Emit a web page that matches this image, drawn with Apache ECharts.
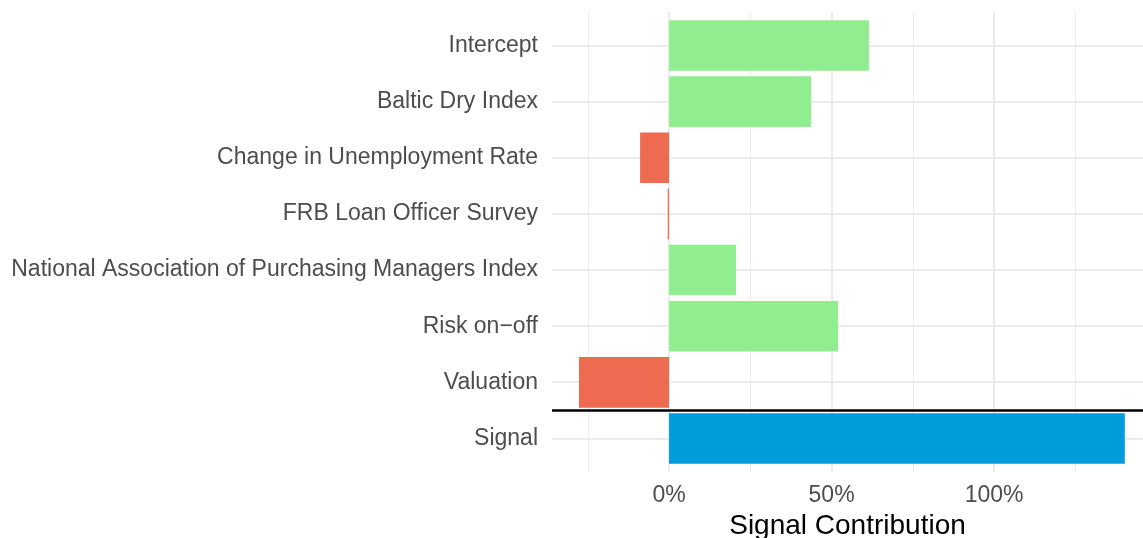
<!DOCTYPE html>
<html>
<head>
    <meta charset="UTF-8"/>
    <script type="text/javascript" src="https://cdn.jsdelivr.net/npm/echarts@6/dist/echarts.min.js"></script>
    <title>Signal Contribution</title>
    <style>
        html, body { margin: 0; padding: 0; background: #fff; }
        #chart { width: 1143px; height: 538px; }
    </style>
</head>
<body>
<div id="chart"></div>

<script type="application/javascript">
    // data (percent)
    var categories = ['Intercept', 'Baltic Dry Index', 'Change in Unemployment Rate', 'FRB Loan Officer Survey',
        'National Association of Purchasing Managers Index', 'Risk on\u2212off', 'Valuation', 'Signal'];
    var contributions = [61.5, 43.7, -8.9, -0.4, 20.6, 52.0, -27.7, 140.2];
    var totalName = 'Signal';
    var majorTicks = [0, 50, 100];
    var minorTicks = [-25, 25, 75, 125];
    var xMin = -36;
    var xMax = 145.8;

    var rowIndex = [];
    for (var i = 0; i < categories.length; i++) {
        rowIndex[i] = i;
    }
    // separator sits between the last factor and the total
    var separatorAt = categories.indexOf(totalName) - 0.5;

    var gridColor = '#EBEBEB';
    var textColor = '#4D4D4D';
    var font = '"Liberation Sans", Arial, Helvetica, sans-serif';

    function barColor(p) {
        if (p.name === totalName) {
            return '#009DDC';
        }
        return p.value >= 0 ? '#90EE90' : '#EE6A50';
    }

    var myChart = echarts.init(document.getElementById('chart'));
    var option = {
        animation: false,
        backgroundColor: '#fff',
        textStyle: { fontFamily: font },
        grid: [
            { left: 552, right: 0, top: 17.4, bottom: 71.4, outerBoundsMode: 'none', containLabel: false },
            { left: 552, right: 0, top: 12, bottom: 66, outerBoundsMode: 'none', containLabel: false }
        ],
        xAxis: [
            {
                type: 'value', gridIndex: 0, min: xMin, max: xMax,
                axisLine: { show: false },
                axisTick: { show: false, customValues: majorTicks },
                splitLine: { show: false },
                axisLabel: {
                    customValues: majorTicks,
                    formatter: '{value}%',
                    color: textColor, fontSize: 23, margin: 18, fontFamily: font
                },
                name: 'Signal Contribution',
                nameLocation: 'middle',
                nameGap: 45,
                nameTextStyle: { color: '#000', fontSize: 28, fontFamily: font }
            },
            {
                type: 'value', gridIndex: 1, min: xMin, max: xMax,
                axisLine: { show: false },
                axisTick: { show: false, customValues: majorTicks },
                axisLabel: { show: false },
                splitLine: { show: true, lineStyle: { color: gridColor, width: 2 } }
            },
            {
                type: 'value', gridIndex: 1, min: xMin, max: xMax, position: 'bottom',
                axisLine: { show: false },
                axisTick: { show: false, customValues: minorTicks },
                axisLabel: { show: false },
                splitLine: { show: true, lineStyle: { color: gridColor, width: 1 } }
            }
        ],
        yAxis: [
            {
                type: 'category', gridIndex: 0, inverse: true, data: categories,
                axisLine: { show: false },
                axisTick: { show: false },
                splitLine: { show: false },
                axisLabel: { color: textColor, fontSize: 23, margin: 14, fontFamily: font }
            },
            {
                type: 'value', gridIndex: 1, inverse: true, min: -0.6, max: categories.length - 0.4,
                axisLine: { show: false },
                axisTick: { show: false, customValues: rowIndex },
                axisLabel: { show: false },
                splitLine: { show: true, lineStyle: { color: gridColor, width: 2 } }
            }
        ],
        series: [
            {
                name: 'contribution',
                type: 'bar',
                xAxisIndex: 0,
                yAxisIndex: 0,
                barWidth: '90%',
                data: contributions,
                itemStyle: { color: barColor },
                silent: true
            },
            {
                name: 'separator',
                type: 'line',
                xAxisIndex: 1,
                yAxisIndex: 1,
                data: [],
                silent: true,
                markLine: {
                    silent: true,
                    symbol: ['none', 'none'],
                    label: { show: false },
                    lineStyle: { color: '#000', width: 2.5, type: 'solid' },
                    data: [{ yAxis: separatorAt }]
                }
            }
        ]
    };
    myChart.setOption(option);
</script>
</body>
</html>
